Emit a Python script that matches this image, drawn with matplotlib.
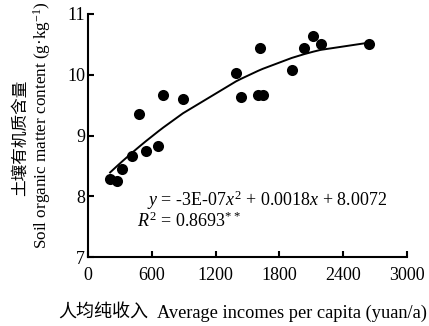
import numpy as np
import matplotlib.pyplot as plt

plt.rcParams["font.family"] = ["Liberation Serif", "DejaVu Serif"]
plt.rcParams["mathtext.fontset"] = "custom"
plt.rcParams["mathtext.rm"] = "Liberation Serif"
plt.rcParams["mathtext.it"] = "Liberation Serif:italic"

# per-capita income (yuan/a) and soil organic matter (g/kg)
income = [208, 276, 324, 412, 484, 547, 663, 710, 893, 1393, 1437,
          1597, 1620, 1644, 1915, 2031, 2120, 2189, 2644]
som = [8.29, 8.25, 8.45, 8.67, 9.36, 8.75, 8.83, 9.67, 9.60, 10.03, 9.63,
       9.67, 10.44, 9.67, 10.07, 10.44, 10.64, 10.51, 10.51]

xticks = [0, 600, 1200, 1800, 2400, 3000]
yticks = [7, 8, 9, 10, 11]

fig = plt.figure(figsize=(4.29, 3.26), dpi=100)
ax = fig.add_axes([88 / 429, 1 - 257 / 326, (407 - 88) / 429, (257 - 14) / 326])

# quadratic trendline through the data, drawn at the sorted x values
xs = np.sort(np.array(income, dtype=float))
coef = np.polyfit(income, som, 2)
ax.plot(xs, np.polyval(coef, xs), color="black", lw=1.4, zorder=2)
ax.scatter(income, som, s=64, color="black", zorder=3, linewidths=0)

ax.set_xlim(0, 3000)
ax.set_ylim(7, 11)
ax.set_xticks(xticks)
ax.set_yticks(yticks)
for side in ("top", "right"):
    ax.spines[side].set_visible(False)
for side in ("left", "bottom"):
    ax.spines[side].set_linewidth(1.5)
ax.tick_params(direction="in", length=4.5, width=1.5, labelsize=13)
ax.tick_params(axis="x", pad=7)
ax.tick_params(axis="y", pad=2)

ax.text(0.185, 0.235, r"$y$ = -3E-07$x^2$ + 0.0018$x$ + 8.0072",
        transform=ax.transAxes, fontsize=13, ha="left", va="center")
ax.text(0.155, 0.145, r"$R^2$ = 0.8693$^{**}$",
        transform=ax.transAxes, fontsize=13, ha="left", va="center")

fig.text(20 / 429, 1 - 138 / 326, "土壤有机质含量", rotation=90, ha="center",
         va="center", fontsize=12, family=["Noto Sans CJK SC", "DejaVu Sans"])
fig.text(42 / 429, 1 - 125 / 326, r"Soil organic matter content (g·kg$^{\mathregular{-1}}$)",
         rotation=90, ha="center", va="center", fontsize=12.3)

fig.text(58 / 429, 1 - 313 / 326, "人均纯收入", ha="left", va="center",
         fontsize=13, family=["Noto Sans CJK SC", "DejaVu Sans"])
fig.text(157 / 429, 1 - 313 / 326, "Average incomes per capita (yuan/a)",
         ha="left", va="center", fontsize=13.2)

fig.savefig("out.png", dpi=100)
